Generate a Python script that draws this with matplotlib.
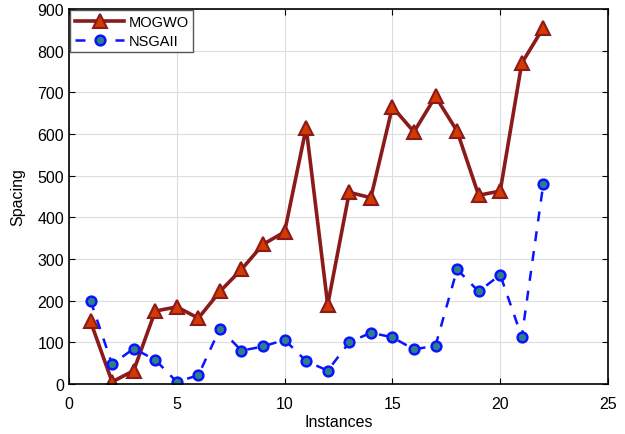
import numpy as np
import matplotlib
matplotlib.use("Agg")
import matplotlib.pyplot as plt

plt.rcParams["font.family"] = ["Liberation Sans", "DejaVu Sans"]

instances = np.arange(1, 23)
mogwo = [150, 5, 32, 175, 185, 158, 222, 275, 335, 365, 615, 190,
         460, 447, 665, 605, 690, 607, 453, 463, 770, 855]
nsgaii = [200, 47, 85, 58, 5, 21, 133, 80, 90, 106, 55, 32,
          100, 123, 112, 83, 92, 275, 222, 262, 113, 480]

fig = plt.figure(figsize=(6.25, 4.35), dpi=100)
ax = fig.add_axes([0.1104, 0.115, 0.8624, 0.862])

ax.plot(instances, mogwo, "-^", color="#8B1A1A", lw=2.6, ms=10,
        mfc="#D43A00", mec="#8B1A1A", mew=1.5, label="MOGWO")
ax.plot(instances, nsgaii, "--o", color="#0A14FF", lw=1.8, ms=7,
        mfc="#2E8088", mec="#0A14FF", mew=1.8, dashes=(4, 4), label="NSGAII")

ax.set_xlim(0, 25)
ax.set_ylim(0, 900)
ax.set_xticks(range(0, 26, 5))
ax.set_yticks(range(0, 901, 100))
ax.grid(True, color="#DDDDDD", lw=0.8)
ax.tick_params(direction="in", top=True, right=True, labelsize=11.5, length=4)
ax.tick_params(axis="x", pad=9)
for s in ax.spines.values():
    s.set_linewidth(1.2)
ax.set_xlabel("Instances", fontsize=11.5, labelpad=2)
ax.set_ylabel("Spacing", fontsize=11.5, labelpad=9)

leg = ax.legend(loc="upper left", fontsize=10.5, fancybox=False,
                borderaxespad=0.1, handlelength=3.4, borderpad=0.3,
                labelspacing=0.35, handletextpad=0.3, framealpha=1)
leg.get_frame().set_edgecolor("#555555")
leg.get_frame().set_linewidth(1.0)

fig.savefig("out.png", dpi=100)
